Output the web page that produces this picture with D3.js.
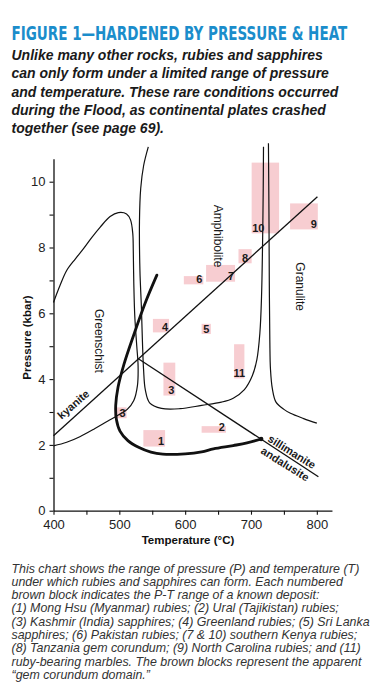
<!DOCTYPE html>
<html>
<head>
<meta charset="utf-8">
<script src="https://cdn.jsdelivr.net/npm/d3@7"></script>
<style>
  body { margin: 0; background: #fff; }
  svg { display: block; }
</style>
</head>
<body>
<div id="chart"></div>
<script>
// ---- data (T in °C, P in kbar) ----
const titleText = "FIGURE 1\u2014HARDENED BY PRESSURE & HEAT";
const introLines = [
    "Unlike many other rocks, rubies and sapphires",
    "can only form under a limited range of pressure",
    "and temperature. These rare conditions occurred",
    "during the Flood, as continental plates crashed",
    "together (see page 69)."
];
const captionLines = [
    "This chart shows the range of pressure (P) and temperature (T)",
    "under which rubies and sapphires can form. Each numbered",
    "brown block indicates the P-T range of a known deposit:",
    "(1) Mong Hsu (Myanmar) rubies; (2) Ural (Tajikistan) rubies;",
    "(3) Kashmir (India) sapphires; (4) Greenland rubies; (5) Sri Lanka",
    "sapphires; (6) Pakistan rubies; (7 & 10) southern Kenya rubies;",
    "(8) Tanzania gem corundum; (9) North Carolina rubies; and (11)",
    "ruby-bearing marbles. The brown blocks represent the apparent",
    "\u201Cgem corundum domain.\u201D"
];

const xTicks = [400, 450, 500, 550, 600, 650, 700, 750, 800];
const yTicks = [0, 1, 2, 3, 4, 5, 6, 7, 8, 9, 10];

// deposit blocks
const blockIds = ["1", "2", "3", "3", "4", "5", "6", "7", "8", "9", "10", "11"];
const blockT = [[536.5, 569.5], [625, 662], [567, 585], [492.5, 511], [551, 575.5], [625, 639],
                [598, 627.6], [631.8, 675.8], [681, 701], [759.4, 801.5], [701, 742.7], [674.3, 690]];
const blockP = [[1.95, 2.45], [2.37, 2.57], [3.5, 4.5], [2.81, 3.14], [5.42, 5.83], [5.37, 5.68],
                [6.88, 7.13], [6.96, 7.47], [7.52, 7.95], [8.55, 9.34], [8.43, 10.58], [4.02, 5.06]];

// facies boundaries
const greenschistCurve = [[400, 6.33], [410, 6.85], [420, 7.3], [433, 7.65], [445, 7.95], [458, 8.3],
    [471, 8.62], [486, 8.94], [498.5, 9.06], [511, 9.02], [517, 8.84], [520.4, 8.43], [521.2, 7.9],
    [522, 6.9], [523.5, 5.9], [526.5, 5.0], [528.5, 4.4], [527.5, 3.8], [522, 3.35], [512, 3.08],
    [498.5, 2.91], [482, 2.72], [463, 2.5], [440, 2.25], [420, 2.08], [400, 1.97]];
const amphiboliteCurve = [[544, 11.06], [537, 10.5], [532.5, 9.8], [530.6, 8.8], [531.3, 7.3],
    [533.5, 6.2], [535, 5.2], [536.8, 4.3], [539.5, 3.67], [546, 3.28], [564, 3.11], [592, 3.1],
    [625, 3.2], [655, 3.3], [673, 3.42], [690, 3.68], [702, 4.1], [709, 4.6], [713.5, 5.4],
    [716, 6.5], [717.5, 8], [718.6, 9.8], [719, 11.06]];
const granuliteCurve = [[726.5, 11.17], [727.3, 9], [727.8, 7], [728.6, 5.2], [729.6, 4.3],
    [732.5, 3.7], [738, 3.3], [750, 3.08], [760, 2.96], [780, 2.8], [800, 2.66]];

// corundum (ruby) stability boundary - heavy line
const corundumCurve = [[557, 7.16], [539, 6.3], [522, 5.35], [507, 4.45], [498, 3.75], [494.5, 3.2],
    [495.5, 2.78], [501, 2.42], [513, 2.13], [530, 1.92], [548, 1.78], [566, 1.72], [600, 1.73],
    [625, 1.79], [643, 1.88], [673, 1.98], [694, 2.06], [715.4, 2.18]];

// aluminosilicate reactions
const kyaniteLine = [[400, 2.28], [800.9, 9.54]];
const andalusiteLine = [[528.9, 4.62], [802.4, 1.03]];

// text placed in the P-T field
const fieldLabels = [
    { text: "Greenschist", t: 469, p: 5.16, angle: 90 },
    { text: "Amphibolite", t: 650.5, p: 8.35, angle: 90 },
    { text: "Granulite", t: 774.6, p: 6.81, angle: 90 }
];
const reactionLabels = [
    { text: "kyanite", t: 430.1, p: 3.23, angle: -41 },
    { text: "sillimanite", t: 762, p: 1.79, angle: 32 },
    { text: "andalusite", t: 751.8, p: 1.42, angle: 32 }
];

// ---- drawing ----
const width = 385, height = 700;
const sans = "'Liberation Sans', Arial, Helvetica, sans-serif";

const svg = d3.select("#chart")
    .append("svg")
    .attr("width", width)
    .attr("height", height);

// title block - squeeze the condensed face to the printed width
const title = svg.append("text")
    .attr("x", 0)
    .attr("y", 0)
    .style("font-family", "'Liberation Sans Narrow', 'DejaVu Sans Condensed', sans-serif")
    .style("font-weight", "bold")
    .style("font-size", "19.5px")
    .style("fill", "#1b8dcb")
    .text(titleText);
const titleLen = title.node().getComputedTextLength();
title.attr("transform", "translate(11.5,40) scale(" + (336 / titleLen) + ",1)");

svg.selectAll("introLines")
    .data(introLines)
    .enter()
    .append("text")
    .attr("x", 11.5)
    .attr("y", (d, i) => 60 + i * 18.3)
    .style("font-family", sans)
    .style("font-weight", "bold")
    .style("font-style", "italic")
    .style("font-size", "14px")
    .style("fill", "#1a1a1a")
    .text(d => d);

// scales
const x = d3.scaleLinear()
    .domain([400, 823])
    .range([53.5, 53.5 + 423 * 0.6583]);
const y = d3.scaleLinear()
    .domain([0, 10.7])
    .range([510.7, 510.7 - 10.7 * 32.9]);

// deposit blocks go underneath everything
svg.selectAll("blocks")
    .data(blockIds)
    .enter()
    .append("rect")
    .attr("x", (d, i) => x(blockT[i][0]))
    .attr("y", (d, i) => y(blockP[i][1]))
    .attr("width", (d, i) => x(blockT[i][1]) - x(blockT[i][0]))
    .attr("height", (d, i) => y(blockP[i][0]) - y(blockP[i][1]))
    .style("fill", "#f7cdd1");

// axes
const xAxis = svg.append("g")
    .attr("transform", "translate(0," + y(0) + ")")
    .call(d3.axisBottom(x)
        .tickValues(xTicks)
        .tickSize(4)
        .tickSizeOuter(0)
        .tickPadding(5)
        .tickFormat(d => d % 100 === 0 ? d : ""));
const yAxis = svg.append("g")
    .attr("transform", "translate(" + x(400) + ",0)")
    .call(d3.axisLeft(y)
        .tickValues(yTicks)
        .tickSize(4)
        .tickSizeOuter(0)
        .tickPadding(4)
        .tickFormat(d => d % 2 === 0 ? d : ""));
[xAxis, yAxis].forEach(g => {
    g.select(".domain").attr("stroke", "#111").attr("stroke-width", 1.3);
    g.selectAll(".tick line").attr("stroke", "#111").attr("stroke-width", 1.1);
    g.selectAll(".tick text")
        .style("font-family", sans)
        .style("font-size", "13px")
        .style("fill", "#222");
});

svg.append("text")
    .attr("x", 188)
    .attr("y", 544)
    .attr("text-anchor", "middle")
    .style("font-family", sans)
    .style("font-weight", "bold")
    .style("font-size", "11.5px")
    .style("fill", "#111")
    .text("Temperature (\u00B0C)");
svg.append("text")
    .attr("transform", "translate(30.5,337.5) rotate(-90)")
    .attr("text-anchor", "middle")
    .style("font-family", sans)
    .style("font-weight", "bold")
    .style("font-size", "11.5px")
    .style("fill", "#111")
    .text("Pressure (kbar)");

// boundary lines
const line = d3.line()
    .x(d => x(d[0]))
    .y(d => y(d[1]))
    .curve(d3.curveCatmullRom.alpha(0.5));

[greenschistCurve, amphiboliteCurve, granuliteCurve].forEach(c => {
    svg.append("path")
        .attr("d", line(c))
        .attr("fill", "none")
        .attr("stroke", "#111")
        .attr("stroke-width", 1.2);
});
[kyaniteLine, andalusiteLine].forEach(c => {
    svg.append("path")
        .attr("d", d3.line().x(d => x(d[0])).y(d => y(d[1]))(c))
        .attr("fill", "none")
        .attr("stroke", "#111")
        .attr("stroke-width", 1.3);
});
svg.append("path")
    .attr("d", line(corundumCurve))
    .attr("fill", "none")
    .attr("stroke", "#111")
    .attr("stroke-width", 2.8)
    .attr("stroke-linecap", "round");
const tip = corundumCurve[corundumCurve.length - 1];
svg.append("circle")
    .attr("cx", x(tip[0]))
    .attr("cy", y(tip[1]))
    .attr("r", 2.3)
    .style("fill", "#111");

// block numbers: bottom right, except 10 which sits bottom left
const labelAnchor = { "5": "middle", "8": "middle", "11": "middle", "10": "start" };
svg.selectAll("blockLabels")
    .data(blockIds)
    .enter()
    .append("text")
    .attr("x", (d, i) => {
        const a = labelAnchor[d] || "end";
        if (a === "start") return x(blockT[i][0]) + 0.5;
        if (a === "middle") return (x(blockT[i][0]) + x(blockT[i][1])) / 2;
        return x(blockT[i][1]) - 1;
    })
    .attr("y", (d, i) => y(blockP[i][0]) - 1.5)
    .attr("text-anchor", d => labelAnchor[d] || "end")
    .style("font-family", sans)
    .style("font-weight", "bold")
    .style("font-size", "11px")
    .style("fill", "#1a1a1a")
    .text(d => d);

// facies names and reaction names
svg.selectAll("fieldLabels")
    .data(fieldLabels)
    .enter()
    .append("text")
    .attr("transform", d => "translate(" + x(d.t) + "," + y(d.p) + ") rotate(" + d.angle + ")")
    .attr("text-anchor", "middle")
    .attr("dy", "0.35em")
    .style("font-family", sans)
    .style("font-size", "12px")
    .style("fill", "#1a1a1a")
    .text(d => d.text);
svg.selectAll("reactionLabels")
    .data(reactionLabels)
    .enter()
    .append("text")
    .attr("transform", d => "translate(" + x(d.t) + "," + y(d.p) + ") rotate(" + d.angle + ")")
    .attr("text-anchor", "middle")
    .attr("dy", "0.35em")
    .style("font-family", sans)
    .style("font-weight", "bold")
    .style("font-size", "11px")
    .style("fill", "#1a1a1a")
    .text(d => d.text);

// caption under the chart
svg.selectAll("captionLines")
    .data(captionLines)
    .enter()
    .append("text")
    .attr("x", 11.5)
    .attr("y", (d, i) => 572.5 + i * 13.33)
    .style("font-family", sans)
    .style("font-style", "italic")
    .style("font-size", "12.4px")
    .style("fill", "#333")
    .text(d => d);
</script>
</body>
</html>
